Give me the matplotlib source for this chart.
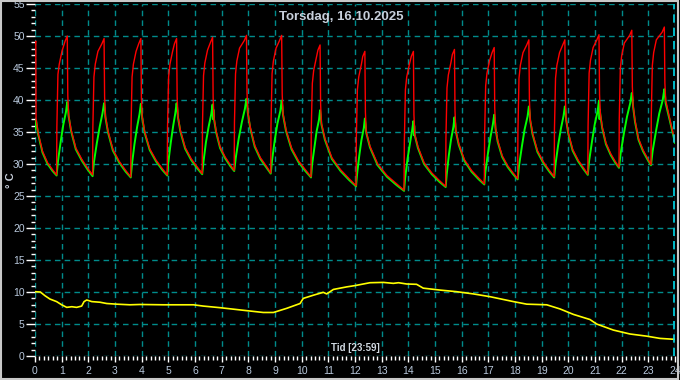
import matplotlib
matplotlib.use("Agg")
import matplotlib.pyplot as plt
from matplotlib.ticker import MultipleLocator
from matplotlib.patches import Rectangle

title = "Torsdag, 16.10.2025"
xlabel = "Tid [23:59]"
ylabel = "° C"

# Red series (hours, °C)
red_t = [0, 0.03, 0.04, 0.12, 0.28, 0.47, 0.66,
         0.81, 0.82, 0.86, 0.91, 1.01, 1.13, 1.21, 1.23, 1.26, 1.35, 1.53, 1.76, 1.98,
         2.16, 2.17, 2.21, 2.26, 2.36, 2.51, 2.59, 2.61, 2.64, 2.74, 2.92, 3.16, 3.40,
         3.59, 3.60, 3.64, 3.69, 3.79, 3.89, 3.97, 3.99, 4.02, 4.11, 4.30, 4.54, 4.77,
         4.96, 4.97, 5.01, 5.06, 5.16, 5.23, 5.31, 5.33, 5.36, 5.45, 5.63, 5.86, 6.09,
         6.27, 6.28, 6.32, 6.37, 6.47, 6.58, 6.66, 6.68, 6.71, 6.79, 6.94, 7.13, 7.32,
         7.47, 7.48, 7.52, 7.57, 7.67, 7.85, 7.93, 7.95, 7.98, 8.07, 8.24, 8.45, 8.67,
         8.84, 8.85, 8.89, 8.94, 9.04, 9.17, 9.25, 9.27, 9.30, 9.41, 9.62, 9.88, 10.14,
         10.35, 10.36, 10.40, 10.45, 10.55, 10.61, 10.69, 10.71, 10.74, 10.87, 11.13, 11.46, 11.78,
         12.04, 12.05, 12.09, 12.14, 12.24, 12.29, 12.37, 12.39, 12.42, 12.56, 12.85, 13.20, 13.56,
         13.84, 13.85, 13.89, 13.94, 14.04, 14.11, 14.19, 14.21, 14.24, 14.36, 14.59, 14.88, 15.17,
         15.40, 15.41, 15.45, 15.50, 15.60, 15.65, 15.73, 15.75, 15.78, 15.89, 16.10, 16.37, 16.64,
         16.85, 16.86, 16.90, 16.95, 17.05, 17.14, 17.22, 17.24, 17.27, 17.35, 17.52, 17.73, 17.93,
         18.10, 18.11, 18.15, 18.20, 18.30, 18.44, 18.52, 18.54, 18.57, 18.66, 18.84, 19.07, 19.29,
         19.47, 19.48, 19.52, 19.57, 19.67, 19.79, 19.87, 19.89, 19.92, 20.00, 20.16, 20.37, 20.57,
         20.73, 20.74, 20.78, 20.83, 20.93, 21.07, 21.15, 21.17, 21.20, 21.27, 21.41, 21.59, 21.76,
         21.90, 21.91, 21.95, 22.00, 22.10, 22.30, 22.38, 22.40, 22.43, 22.50, 22.63, 22.80, 22.97,
         23.10, 23.11, 23.15, 23.20, 23.30, 23.52, 23.60, 23.62, 23.65, 23.81, 24.0]
red_v = [48.8, 49.2, 37.0, 34.8, 32.0, 30.2, 29.1,
         28.3, 35.8, 44.0, 45.6, 47.6, 49.2, 50.0, 40.7, 37.7, 35.4, 32.5, 30.7, 29.3,
         28.3, 35.8, 43.6, 45.6, 47.6, 48.8, 49.6, 40.5, 37.5, 35.1, 32.3, 30.4, 29.0,
         28.0, 35.5, 43.6, 45.6, 47.6, 48.8, 49.6, 40.4, 37.4, 35.1, 32.4, 30.6, 29.3,
         28.3, 35.8, 43.6, 45.6, 47.6, 48.8, 49.6, 40.5, 37.5, 35.3, 32.6, 30.8, 29.5,
         28.5, 36.0, 43.8, 45.8, 47.8, 49.0, 49.8, 40.3, 37.3, 35.2, 32.7, 31.1, 29.9,
         29.0, 36.5, 44.1, 46.1, 48.1, 49.3, 50.1, 41.2, 38.2, 35.8, 32.9, 31.0, 29.7,
         28.6, 36.1, 44.1, 46.1, 48.1, 49.3, 50.1, 40.9, 37.9, 35.4, 32.5, 30.5, 29.1,
         28.0, 35.5, 42.6, 44.6, 46.6, 47.8, 48.6, 39.4, 36.4, 34.0, 31.0, 29.1, 27.7,
         26.6, 34.1, 41.6, 43.6, 45.6, 46.8, 47.6, 38.1, 35.1, 32.8, 30.0, 28.2, 26.9,
         25.9, 33.4, 41.6, 43.6, 45.6, 46.8, 47.6, 37.7, 34.7, 32.7, 30.2, 28.6, 27.4,
         26.5, 34.0, 41.9, 43.9, 45.9, 47.1, 47.9, 38.3, 35.3, 33.2, 30.7, 29.0, 27.8,
         26.9, 34.4, 42.2, 44.2, 46.2, 47.4, 48.2, 38.7, 35.7, 33.7, 31.3, 29.7, 28.6,
         27.7, 35.2, 43.4, 45.4, 47.4, 48.6, 49.4, 40.0, 37.0, 34.8, 32.1, 30.3, 29.0,
         28.0, 35.5, 43.4, 45.4, 47.4, 48.6, 49.4, 40.0, 37.0, 34.9, 32.3, 30.6, 29.4,
         28.4, 35.9, 44.2, 46.2, 48.2, 49.4, 50.2, 40.9, 37.9, 35.8, 33.3, 31.6, 30.4,
         29.5, 37.0, 44.9, 46.9, 48.9, 50.1, 50.9, 42.1, 39.1, 36.8, 34.0, 32.2, 30.9,
         29.9, 37.4, 45.4, 47.4, 49.4, 50.6, 51.4, 42.7, 40.0, 36.9, 33.5]

# Green series (hours, °C)
green_t = [0, 0.02, 0.04, 0.12, 0.28, 0.47, 0.66,
           0.81, 0.86, 0.96, 1.06, 1.16, 1.21, 1.24, 1.26, 1.35, 1.53, 1.76, 1.98,
           2.16, 2.21, 2.32, 2.43, 2.53, 2.59, 2.62, 2.64, 2.74, 2.92, 3.16, 3.40,
           3.59, 3.64, 3.73, 3.83, 3.92, 3.97, 4.00, 4.02, 4.11, 4.30, 4.54, 4.77,
           4.96, 5.00, 5.09, 5.18, 5.26, 5.31, 5.34, 5.36, 5.45, 5.63, 5.86, 6.09,
           6.27, 6.32, 6.41, 6.51, 6.61, 6.66, 6.68, 6.69, 6.71, 6.79, 6.94, 7.13, 7.32,
           7.47, 7.53, 7.64, 7.76, 7.87, 7.93, 7.96, 7.98, 8.07, 8.24, 8.45, 8.67,
           8.84, 8.89, 8.99, 9.09, 9.20, 9.25, 9.28, 9.30, 9.41, 9.62, 9.88, 10.14,
           10.35, 10.39, 10.48, 10.56, 10.65, 10.69, 10.72, 10.74, 10.87, 11.13, 11.46, 11.78,
           12.04, 12.08, 12.16, 12.24, 12.33, 12.37, 12.40, 12.42, 12.56, 12.85, 13.20, 13.56,
           13.84, 13.88, 13.97, 14.06, 14.14, 14.19, 14.21, 14.22, 14.24, 14.36, 14.59, 14.88, 15.17,
           15.40, 15.44, 15.52, 15.60, 15.69, 15.73, 15.76, 15.78, 15.89, 16.10, 16.37, 16.64,
           16.85, 16.89, 16.99, 17.08, 17.17, 17.22, 17.25, 17.27, 17.35, 17.52, 17.73, 17.93,
           18.10, 18.15, 18.26, 18.36, 18.47, 18.52, 18.55, 18.57, 18.66, 18.84, 19.07, 19.29,
           19.47, 19.52, 19.62, 19.72, 19.82, 19.87, 19.90, 19.92, 20.00, 20.16, 20.37, 20.57,
           20.73, 20.78, 20.89, 20.99, 21.10, 21.15, 21.17, 21.18, 21.20, 21.27, 21.41, 21.59, 21.76,
           21.90, 21.96, 22.08, 22.20, 22.32, 22.38, 22.41, 22.43, 22.50, 22.63, 22.80, 22.97,
           23.10, 23.16, 23.29, 23.41, 23.54, 23.60, 23.63, 23.65, 23.81, 24.0]
green_v = [35.5, 36.8, 36.8, 34.6, 31.8, 30.0, 28.9,
           28.2, 30.4, 33.4, 36.1, 38.1, 39.7, 38.7, 37.5, 35.2, 32.3, 30.5, 29.1,
           28.1, 30.3, 33.3, 35.9, 37.9, 39.5, 38.5, 37.3, 34.9, 32.1, 30.2, 28.8,
           27.9, 30.1, 33.1, 35.8, 37.8, 39.4, 38.4, 37.2, 34.9, 32.2, 30.4, 29.1,
           28.2, 30.3, 33.3, 35.9, 37.9, 39.5, 38.5, 37.3, 35.1, 32.4, 30.6, 29.3,
           28.4, 30.4, 33.4, 35.8, 37.8, 39.3, 37.0, 38.5, 37.1, 35.0, 32.5, 30.9, 29.7,
           28.9, 31.0, 34.0, 36.6, 38.6, 40.2, 39.2, 38.0, 35.6, 32.7, 30.8, 29.5,
           28.5, 30.6, 33.7, 36.3, 38.3, 39.9, 38.9, 37.7, 35.2, 32.3, 30.3, 28.9,
           27.9, 29.9, 32.7, 35.1, 36.9, 38.4, 37.4, 36.2, 33.8, 30.8, 28.9, 27.5,
           26.5, 28.5, 31.3, 33.7, 35.6, 37.1, 36.1, 34.9, 32.6, 29.8, 28.0, 26.7,
           25.8, 27.8, 30.8, 33.2, 35.2, 36.7, 34.5, 36.0, 34.5, 32.5, 30.0, 28.4, 27.2,
           26.4, 28.4, 31.4, 33.8, 35.8, 37.3, 36.3, 35.1, 33.0, 30.5, 28.8, 27.6,
           26.8, 28.8, 31.8, 34.2, 36.2, 37.7, 36.7, 35.5, 33.5, 31.1, 29.5, 28.4,
           27.6, 29.7, 32.8, 35.4, 37.4, 39.0, 38.0, 36.8, 34.6, 31.9, 30.1, 28.8,
           27.9, 30.0, 33.0, 35.5, 37.5, 39.0, 38.0, 36.8, 34.7, 32.1, 30.4, 29.2,
           28.3, 30.5, 33.6, 36.2, 38.3, 39.9, 37.0, 38.5, 37.7, 35.6, 33.1, 31.4, 30.2,
           29.4, 31.6, 34.7, 37.4, 39.5, 41.1, 40.1, 38.9, 36.6, 33.8, 32.0, 30.7,
           29.8, 32.0, 35.2, 37.9, 40.0, 41.7, 40.5, 39.5, 36.7, 33.3]

# Yellow series (outdoor, hours, °C)
yellow_t = [0.0, 0.2, 0.38, 0.56, 0.81, 1.0, 1.19, 1.38, 1.56, 1.75, 1.84, 1.94, 2.13, 2.44,
            2.69, 3.06, 3.56, 3.94, 4.81, 5.94, 6.31, 6.94, 7.69, 8.56, 8.94, 9.44, 9.94,
            10.06, 10.44, 10.81, 10.94, 11.19, 11.69, 12.0, 12.56, 13.06, 13.44, 13.63,
            13.94, 14.31, 14.56, 15.19, 15.81, 16.44, 17.06, 17.94, 18.44, 19.19, 19.69,
            20.19, 20.81, 21.06, 21.69, 22.31, 22.94, 23.44, 24.0]
yellow_v = [10.05, 10.0, 9.4, 8.9, 8.5, 8.0, 7.6, 7.7, 7.6, 7.8, 8.5, 8.75, 8.5, 8.4,
            8.2, 8.1, 8.0, 8.05, 8.0, 8.0, 7.8, 7.55, 7.2, 6.8, 6.8, 7.45, 8.2,
            9.0, 9.5, 9.95, 9.7, 10.4, 10.8, 11.0, 11.45, 11.5, 11.35, 11.45,
            11.25, 11.2, 10.6, 10.3, 10.05, 9.7, 9.27, 8.5, 8.1, 8.0, 7.35,
            6.5, 5.7, 5.0, 4.05, 3.44, 3.1, 2.75, 2.6]

W, H = 680, 380
fig = plt.figure(figsize=(W / 100, H / 100), dpi=100, facecolor="black")
ax = fig.add_axes([35 / W, 1 - 356 / H, 640 / W, 352 / H])
ax.set_facecolor("black")
ax.set_xlim(0, 24)
ax.set_ylim(0, 55)

tick_col = "#b8c8dc"
grid_col = "#008b8b"

ax.xaxis.set_major_locator(MultipleLocator(1))
ax.xaxis.set_minor_locator(MultipleLocator(1 / 6))
ax.yaxis.set_major_locator(MultipleLocator(5))
ax.yaxis.set_minor_locator(MultipleLocator(1))

ax.grid(which="major", color=grid_col, linestyle=(0, (4, 3)), linewidth=1)
ax.set_axisbelow(True)
for s in ax.spines.values():
    s.set_visible(False)

fam = ["Liberation Sans", "DejaVu Sans"]
ax.tick_params(axis="y", which="major", length=6.5, width=1, color="white",
               pad=1, labelsize=7.5, labelcolor=tick_col)
ax.tick_params(axis="y", which="minor", length=3, width=1, color="white")
ax.tick_params(axis="x", which="major", length=4.5, width=1, color="white",
               pad=3, labelsize=7.5, labelcolor=tick_col)
ax.tick_params(axis="x", which="minor", length=3, width=1, color="white")
for lab in ax.get_xticklabels() + ax.get_yticklabels():
    lab.set_family(fam)

ax.plot(yellow_t, yellow_v, color="#ffff00", lw=1.2)
ax.plot(green_t, green_v, color="#00ff00", lw=1.4)
ax.plot(red_t, red_v, color="#ff0000", lw=1.0)
ax.axvline(23.98, color="#00d8e8", lw=1.2, linestyle=(0, (5, 3)))

fig.text(0.502, 1 - 17 / H, title, ha="center", va="center", fontsize=9.5,
         color="#c8d0dc", family=fam, fontweight="bold")
ax.text(0.5, 0.022, xlabel, transform=ax.transAxes, ha="center", va="center",
        fontsize=7, color="#d0d8e0", family=fam, fontweight="bold")
fig.text(11 / W, 1 - 180 / H, ylabel, rotation=90, ha="center", va="center",
         fontsize=8, color="#c8d0dc", family=fam, fontweight="bold")

fig.patches.append(Rectangle((0.0015, 0.002), 0.996, 0.995, transform=fig.transFigure,
                             fill=False, edgecolor="#c8c8c8", lw=1.5))

fig.savefig("out.png", dpi=100, facecolor="black")
